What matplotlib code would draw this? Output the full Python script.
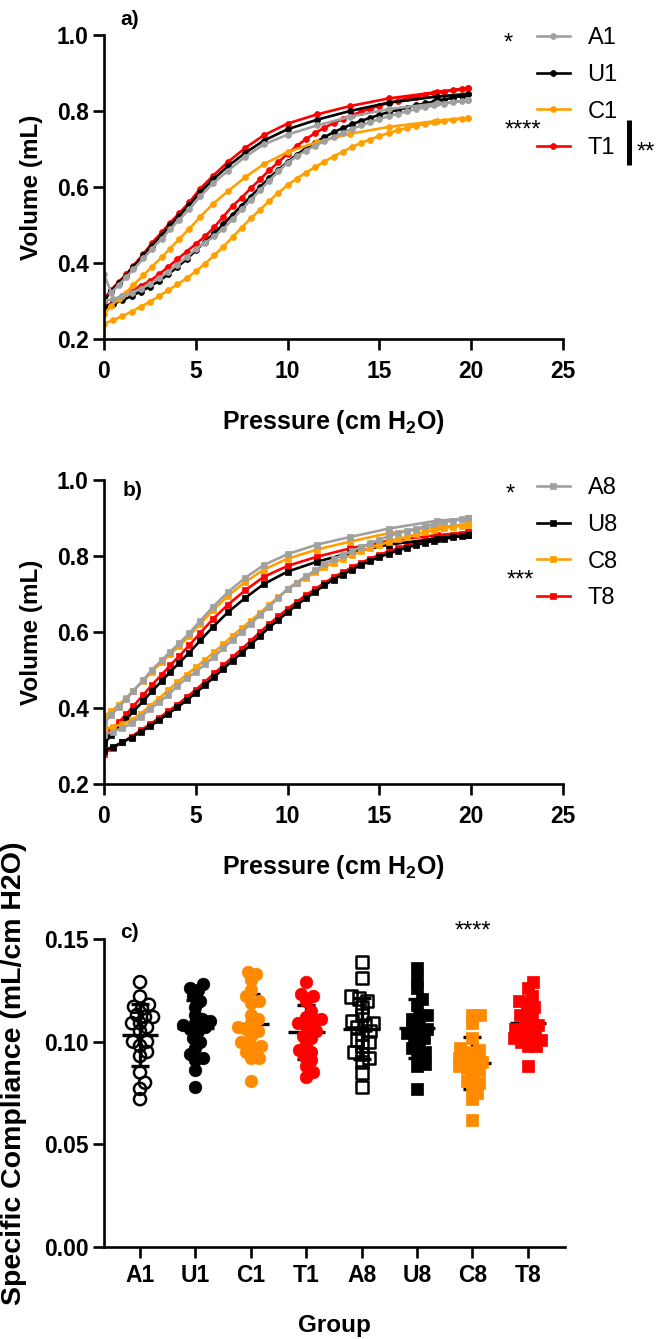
import numpy as np
import matplotlib
matplotlib.use('Agg')
import matplotlib.pyplot as plt

plt.rcParams['font.family'] = ['Liberation Sans', 'DejaVu Sans']
plt.rcParams['font.weight'] = 'bold'
plt.rcParams['axes.labelweight'] = 'bold'
plt.rcParams['mathtext.fontset'] = 'custom'
plt.rcParams['mathtext.rm'] = 'Liberation Sans:bold'
plt.rcParams['mathtext.it'] = 'Liberation Sans:bold'
plt.rcParams['mathtext.default'] = 'rm'

# pressure steps (cm H2O) for the inflation and deflation limbs
p_infl = [0.0, 0.5, 1.0, 1.5, 2.0, 2.5, 3.0, 3.5, 4.0, 4.5, 5.0, 5.5, 6.0, 6.5, 7.0,
          7.5, 8.0, 8.5, 9.0, 9.5, 10.0, 10.5, 11.0, 11.5, 12.0, 12.5, 13.0, 13.5,
          14.0, 14.5, 15.0, 15.5, 16.0, 16.5, 17.0, 17.5, 18.0, 18.5, 19.0, 19.5, 19.85]
p_defl = [19.85, 18.15, 15.5, 13.4, 11.6, 10.0, 8.7, 7.7, 6.75, 5.95, 5.25, 4.65,
          4.1, 3.6, 3.15, 2.6, 2.15, 1.6, 1.2, 0.8, 0.4, 0.0]

# day 1 volumes (mL)
a1_infl = [0.300, 0.305, 0.313, 0.322, 0.332, 0.345, 0.360, 0.377, 0.396, 0.415, 0.437,
           0.453, 0.470, 0.490, 0.515, 0.541, 0.566, 0.592, 0.617, 0.641, 0.664, 0.681,
           0.696, 0.709, 0.721, 0.732, 0.743, 0.753, 0.762, 0.771, 0.779, 0.786, 0.793,
           0.799, 0.805, 0.810, 0.815, 0.819, 0.823, 0.826, 0.828]
a1_defl = [0.828, 0.820, 0.805, 0.785, 0.762, 0.738, 0.712, 0.680, 0.643, 0.610, 0.576,
           0.542, 0.514, 0.489, 0.464, 0.437, 0.412, 0.383, 0.362, 0.342, 0.322, 0.370]
u1_infl = [0.285, 0.293, 0.302, 0.313, 0.325, 0.338, 0.353, 0.370, 0.390, 0.410, 0.433,
           0.455, 0.478, 0.502, 0.527, 0.551, 0.575, 0.600, 0.624, 0.645, 0.666, 0.685,
           0.702, 0.717, 0.731, 0.744, 0.755, 0.765, 0.774, 0.782, 0.790, 0.797, 0.803,
           0.809, 0.815, 0.820, 0.825, 0.830, 0.835, 0.840, 0.845]
u1_defl = [0.845, 0.838, 0.822, 0.800, 0.777, 0.752, 0.722, 0.690, 0.655, 0.620, 0.587,
           0.553, 0.525, 0.499, 0.474, 0.446, 0.420, 0.390, 0.367, 0.347, 0.327, 0.300]
c1_infl = [0.240, 0.250, 0.260, 0.272, 0.285, 0.298, 0.313, 0.328, 0.344, 0.360, 0.378,
           0.398, 0.420, 0.443, 0.468, 0.493, 0.518, 0.540, 0.563, 0.585, 0.605, 0.622,
           0.638, 0.652, 0.667, 0.680, 0.693, 0.705, 0.716, 0.725, 0.734, 0.742, 0.749,
           0.755, 0.761, 0.766, 0.770, 0.774, 0.777, 0.780, 0.782]
c1_defl = [0.782, 0.774, 0.758, 0.740, 0.718, 0.692, 0.660, 0.626, 0.589, 0.556, 0.522,
           0.490, 0.463, 0.438, 0.415, 0.390, 0.368, 0.342, 0.322, 0.305, 0.288, 0.265]
t1_infl = [0.283, 0.297, 0.312, 0.325, 0.340, 0.353, 0.370, 0.390, 0.410, 0.430, 0.450,
           0.470, 0.494, 0.522, 0.550, 0.572, 0.597, 0.620, 0.644, 0.665, 0.688, 0.708,
           0.726, 0.742, 0.756, 0.768, 0.779, 0.789, 0.798, 0.806, 0.814, 0.821, 0.827,
           0.833, 0.838, 0.843, 0.847, 0.851, 0.854, 0.857, 0.860]
t1_defl = [0.861, 0.850, 0.833, 0.813, 0.791, 0.767, 0.736, 0.703, 0.666, 0.630, 0.596,
           0.560, 0.531, 0.506, 0.481, 0.452, 0.424, 0.393, 0.370, 0.350, 0.330, 0.305]

# day 8 volumes (mL)
a8_infl = [0.330, 0.338, 0.347, 0.360, 0.377, 0.397, 0.415, 0.435, 0.458, 0.478, 0.495,
           0.515, 0.535, 0.557, 0.580, 0.600, 0.622, 0.645, 0.667, 0.690, 0.714, 0.730,
           0.747, 0.762, 0.778, 0.791, 0.803, 0.813, 0.823, 0.833, 0.843, 0.852, 0.860,
           0.866, 0.872, 0.878, 0.884, 0.889, 0.893, 0.897, 0.899]
a8_defl = [0.899, 0.893, 0.872, 0.850, 0.830, 0.805, 0.776, 0.743, 0.705, 0.667, 0.630,
           0.597, 0.570, 0.548, 0.526, 0.500, 0.474, 0.445, 0.423, 0.402, 0.382, 0.360]
u8_infl = [0.288, 0.298, 0.310, 0.322, 0.337, 0.352, 0.368, 0.385, 0.402, 0.420, 0.440,
           0.460, 0.482, 0.503, 0.525, 0.545, 0.567, 0.590, 0.612, 0.632, 0.652, 0.671,
           0.689, 0.706, 0.723, 0.738, 0.751, 0.764, 0.776, 0.787, 0.797, 0.806, 0.814,
           0.822, 0.829, 0.835, 0.840, 0.845, 0.849, 0.853, 0.855]
u8_defl = [0.855, 0.846, 0.830, 0.808, 0.785, 0.759, 0.726, 0.690, 0.652, 0.614, 0.578,
           0.546, 0.519, 0.495, 0.471, 0.444, 0.419, 0.391, 0.370, 0.350, 0.330, 0.305]
c8_infl = [0.345, 0.350, 0.358, 0.368, 0.385, 0.405, 0.425, 0.447, 0.468, 0.488, 0.507,
           0.527, 0.547, 0.568, 0.590, 0.610, 0.630, 0.650, 0.672, 0.692, 0.712, 0.728,
           0.743, 0.757, 0.770, 0.782, 0.793, 0.803, 0.812, 0.821, 0.829, 0.837, 0.844,
           0.851, 0.857, 0.863, 0.868, 0.873, 0.877, 0.880, 0.882]
c8_defl = [0.882, 0.876, 0.860, 0.838, 0.817, 0.793, 0.764, 0.732, 0.695, 0.658, 0.622,
           0.590, 0.563, 0.542, 0.520, 0.496, 0.472, 0.446, 0.426, 0.408, 0.392, 0.378]
t8_infl = [0.280, 0.295, 0.310, 0.325, 0.341, 0.357, 0.374, 0.391, 0.409, 0.428, 0.448,
           0.469, 0.491, 0.512, 0.534, 0.555, 0.577, 0.600, 0.621, 0.641, 0.661, 0.679,
           0.697, 0.713, 0.729, 0.744, 0.757, 0.770, 0.782, 0.793, 0.803, 0.812, 0.820,
           0.828, 0.835, 0.841, 0.846, 0.851, 0.855, 0.859, 0.862]
t8_defl = [0.862, 0.855, 0.840, 0.820, 0.798, 0.774, 0.745, 0.710, 0.672, 0.635, 0.598,
           0.565, 0.537, 0.512, 0.488, 0.460, 0.435, 0.405, 0.383, 0.362, 0.342, 0.315]

# specific compliance (mL/cm H2O) per animal
groups = ['A1', 'U1', 'C1', 'T1', 'A8', 'U8', 'C8', 'T8']
sc_a1 = [0.129, 0.122, 0.118, 0.116, 0.117, 0.112, 0.113, 0.112, 0.109, 0.109, 0.107,
         0.105, 0.100, 0.100, 0.098, 0.095, 0.093, 0.085, 0.080, 0.077, 0.072]
sc_u1 = [0.128, 0.126, 0.125, 0.122, 0.120, 0.117, 0.113, 0.111, 0.110, 0.106, 0.109,
         0.108, 0.107, 0.105, 0.102, 0.100, 0.097, 0.094, 0.092, 0.091, 0.086, 0.078]
sc_c1 = [0.134, 0.133, 0.130, 0.125, 0.122, 0.120, 0.119, 0.113, 0.109, 0.111, 0.107,
         0.106, 0.105, 0.103, 0.100, 0.098, 0.099, 0.096, 0.095, 0.092, 0.092, 0.081]
sc_t1 = [0.129, 0.123, 0.122, 0.120, 0.115, 0.112, 0.111, 0.109, 0.109, 0.108, 0.105,
         0.103, 0.102, 0.099, 0.096, 0.095, 0.093, 0.091, 0.088, 0.085, 0.083]
sc_a8 = [0.139, 0.131, 0.122, 0.121, 0.120, 0.117, 0.113, 0.110, 0.109, 0.108, 0.107,
         0.105, 0.104, 0.101, 0.100, 0.098, 0.095, 0.094, 0.092, 0.090, 0.085, 0.078]
sc_u8 = [0.136, 0.130, 0.126, 0.121, 0.118, 0.113, 0.113, 0.111, 0.109, 0.107, 0.106,
         0.105, 0.102, 0.104, 0.102, 0.099, 0.097, 0.095, 0.094, 0.089, 0.088, 0.077]
sc_c8 = [0.113, 0.113, 0.109, 0.102, 0.097, 0.096, 0.095, 0.093, 0.092, 0.091, 0.090,
         0.089, 0.088, 0.087, 0.086, 0.084, 0.081, 0.080, 0.078, 0.075, 0.072, 0.062]
sc_t8 = [0.129, 0.126, 0.122, 0.120, 0.119, 0.117, 0.115, 0.113, 0.112, 0.110, 0.108,
         0.107, 0.106, 0.105, 0.104, 0.102, 0.102, 0.101, 0.100, 0.098, 0.098, 0.088]

GREY = '#a0a0a0'
ORANGE = '#ffa000'
ORANGE_PT = '#ff8a00'
RED = '#ff0000'

W, H = 657, 1339
fig = plt.figure(figsize=(W / 100, H / 100), dpi=100)


def add_axes_px(left, top, right, bottom):
    return fig.add_axes([left / W, 1 - bottom / H, (right - left) / W, (bottom - top) / H])


def style(ax):
    for s in ['top', 'right']:
        ax.spines[s].set_visible(False)
    for s in ['left', 'bottom']:
        ax.spines[s].set_linewidth(1.9)
    ax.tick_params(width=1.9, length=8, labelsize=16.5)


def pv_panel(ax, series, marker, ms, legend_top):
    lines = {}
    # draw order puts the grey loop on top
    for name in [series[3][0], series[1][0], series[2][0], series[0][0]]:
        _, color, v_in, v_out = next(s for s in series if s[0] == name)
        p = np.concatenate([p_infl, p_defl])
        v = np.concatenate([v_in, v_out])
        ln, = ax.plot(p, v, color=color, lw=1.9, marker=marker, ms=ms,
                      mfc=color, mec=color, mew=0.5, label=name)
        lines[name] = ln
    style(ax)
    ax.set_xlim(0, 25)
    ax.set_ylim(0.2, 1.0)
    ax.set_xticks([0, 5, 10, 15, 20, 25])
    ax.set_yticks([0.2, 0.4, 0.6, 0.8, 1.0])
    ax.set_yticklabels(['0.2', '0.4', '0.6', '0.8', '1.0'])
    ax.tick_params(axis='x', pad=7)
    ax.tick_params(axis='y', pad=3)
    ax.set_ylabel('Volume (mL)', fontsize=17.5, labelpad=10)
    ax.set_xlabel('Pressure (cm H$_2$O)', fontsize=18, labelpad=18)
    ax.legend(handles=[lines[s[0]] for s in series], loc='upper left',
              bbox_to_anchor=(0.943, legend_top), frameon=False,
              prop={'size': 17, 'weight': 'normal'}, handlelength=1.4,
              handletextpad=0.75, labelspacing=0.62, borderaxespad=0, borderpad=0)
    return lines


# a) day 1 pressure-volume loops
ax_a = add_axes_px(104, 35, 563, 339)
pv_panel(ax_a, [('A1', GREY, a1_infl, a1_defl), ('U1', 'black', u1_infl, u1_defl),
                ('C1', ORANGE, c1_infl, c1_defl), ('T1', RED, t1_infl, t1_defl)],
         'o', 4.3, 1.025)
ax_a.text(0.035, 1.052, 'a)', transform=ax_a.transAxes, fontsize=15, va='center')
star = dict(transform=ax_a.transAxes, fontsize=17, fontweight='normal',
            ha='center', va='center', clip_on=False)
ax_a.text(0.880, 0.972, '*', **star)
ax_a.text(0.912, 0.685, '****', **star)
ax_a.text(1.181, 0.613, '**', **star)
ax_a.plot([1.144, 1.144], [0.572, 0.720], color='black', lw=3.6,
          transform=ax_a.transAxes, clip_on=False, solid_capstyle='butt')

# b) day 8 pressure-volume loops
ax_b = add_axes_px(104, 480, 563, 784)
pv_panel(ax_b, [('A8', GREY, a8_infl, a8_defl), ('U8', 'black', u8_infl, u8_defl),
                ('C8', ORANGE, c8_infl, c8_defl), ('T8', RED, t8_infl, t8_defl)],
         's', 4.6, 1.009)
ax_b.text(0.040, 0.965, 'b)', transform=ax_b.transAxes, fontsize=15, va='center')
star['transform'] = ax_b.transAxes
ax_b.text(0.885, 0.952, '*', **star)
ax_b.text(0.906, 0.668, '***', **star)

# c) specific compliance scatter with mean +/- SD
ax_c = add_axes_px(104, 939, 565, 1247)
style(ax_c)
ax_c.set_xlim(-0.65, 7.67)
ax_c.set_ylim(0, 0.15)
x_px = ax_c.get_position().width * W / (7.67 + 0.65)
y_px = ax_c.get_position().height * H / 0.15


def swarm(vals, min_dist=7.5, step=1.0, max_off=15):
    vals = np.asarray(vals)
    offs = np.zeros(len(vals))
    placed = []
    for i in np.argsort(vals):
        y = vals[i] * y_px
        cands = [0.0]
        k = 1
        while k * step <= max_off:
            cands += [k * step, -k * step]
            k += 1
        best, best_d = 0.0, -1
        for c in cands:
            d = min([np.hypot(c - px, y - py) for px, py in placed] or [1e9])
            if d >= min_dist:
                best = c
                break
            if d > best_d:
                best, best_d = c, d
        offs[i] = best
        placed.append((best, y))
    return offs / x_px


sc_data = [sc_a1, sc_u1, sc_c1, sc_t1, sc_a8, sc_u8, sc_c8, sc_t8]
sc_marker = ['o', 'o', 'o', 'o', 's', 's', 's', 's']
sc_face = ['none', 'black', ORANGE_PT, RED, 'none', 'black', ORANGE_PT, RED]
sc_edge = ['black', 'black', ORANGE_PT, RED, 'black', 'black', ORANGE_PT, RED]

for i, vals in enumerate(sc_data):
    vals = np.asarray(vals)
    m, sd = vals.mean(), vals.std(ddof=1)
    ax_c.hlines(m, i - 0.33, i + 0.33, color='black', lw=2.4, zorder=2)
    ax_c.errorbar(i, m, yerr=sd, fmt='none', ecolor='black', elinewidth=2.4,
                  capsize=6.5, capthick=2.4, zorder=2)
    open_mk = sc_face[i] == 'none'
    ax_c.scatter(i + swarm(vals), vals, marker=sc_marker[i], s=76 if open_mk else 82,
                 facecolors=sc_face[i], edgecolors=sc_edge[i],
                 linewidths=1.8 if open_mk else 0.5, zorder=3)

ax_c.set_xticks(range(len(groups)))
ax_c.set_xticklabels(groups)
ax_c.set_yticks([0, 0.05, 0.10, 0.15])
ax_c.set_yticklabels(['0.00', '0.05', '0.10', '0.15'])
ax_c.tick_params(axis='x', pad=4)
ax_c.tick_params(axis='y', pad=3)
ax_c.set_xlabel('Group', fontsize=17.5, labelpad=20)
ax_c.set_ylabel('Specific Compliance (mL/cm H2O)', fontsize=20.5)
ax_c.yaxis.set_label_coords(-0.166, 0.565)
ax_c.text(0.035, 1.02, 'c)', transform=ax_c.transAxes, fontsize=15, va='center')
ax_c.text(6, 1.025, '****', transform=ax_c.get_xaxis_transform(), fontsize=17,
          fontweight='normal', ha='center', va='center', clip_on=False)

fig.savefig('out.png', dpi=100)
